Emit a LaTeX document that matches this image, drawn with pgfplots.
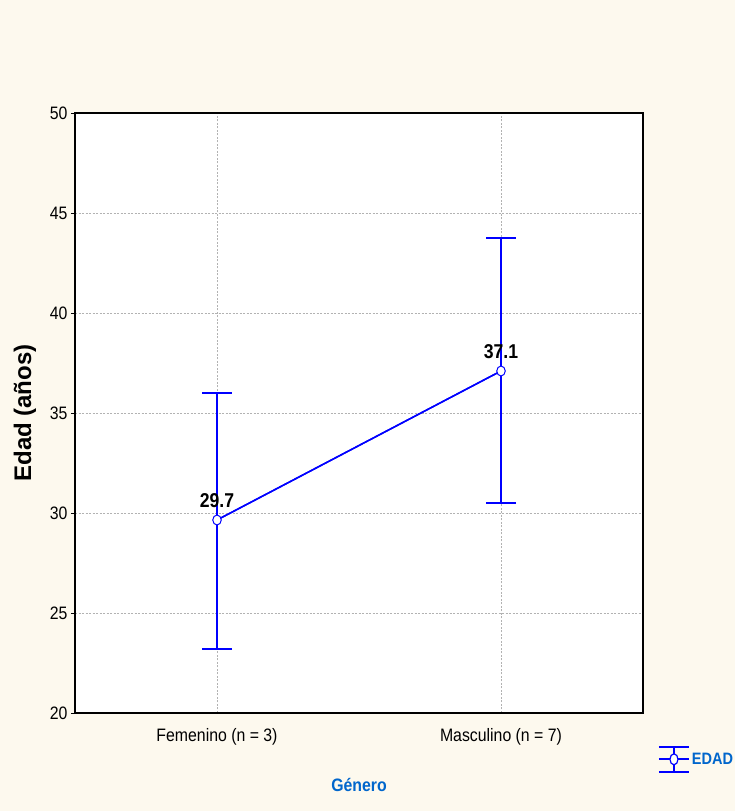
\documentclass[border=0pt]{standalone}
\usepackage{fontspec}
\setmainfont{Liberation Sans}[FakeStretch=0.88]
\newfontfamily\plainfont{Liberation Sans}
\usepackage{pgfplots}
\pgfplotsset{compat=1.18}
\definecolor{bgcream}{RGB}{253,249,238}
\definecolor{gblue}{RGB}{0,102,204}
\definecolor{lblue}{RGB}{0,0,255}
\begin{document}
\begin{tikzpicture}
\fill[bgcream] (0bp,0bp) rectangle (735bp,811bp);
\begin{axis}[
  at={(75bp,98bp)}, anchor=south west,
  scale only axis, width=568bp, height=600bp,
  xmin=-0.5, xmax=1.5, ymin=20, ymax=50,
  xtick={0,1}, xticklabels={Femenino (n = 3), Masculino (n = 7)},
  ytick={20,25,30,35,40,45,50},
  ytick pos=left,
  /pgf/number format/assume math mode=true,
  grid=major,
  grid style={gray!60, line width=0.5bp, dash pattern=on 2bp off 1.5bp},
  axis background/.style={fill=white},
  axis line style={black, line width=1.2bp},
  tick align=outside, major tick length=4bp,
  ytick style={black, line width=0.6bp},
  xtick style={draw=none},
  ticklabel style={font=\fontsize{18bp}{20bp}\selectfont, text=black},
  xticklabel style={yshift=-8bp},
  xlabel={\bfseries Género},
  xlabel style={at={(axis description cs:0.5,-0.12)}, anchor=center, font=\fontsize{18bp}{20bp}\selectfont, text=gblue},
  ylabel={\plainfont\bfseries Edad (años)},
  ylabel style={at={(axis description cs:-0.088,0.5)}, anchor=center, rotate=0, font=\fontsize{24bp}{26bp}\selectfont},
  legend style={at={(axis description cs:1.026,-0.078)}, anchor=west, draw=none, fill=none, inner sep=0pt,
    font=\fontsize{16.5bp}{18bp}\selectfont\bfseries, text=gblue},
  legend image code/.code={
    \draw[lblue, line width=2bp] (0bp,0bp) -- (30bp,0bp);
    \draw[lblue, line width=2bp] (0bp,12bp) -- (30bp,12bp);
    \draw[lblue, line width=2bp] (0bp,-13bp) -- (30bp,-13bp);
    \draw[lblue, line width=1.5bp] (15bp,12bp) -- (15bp,-13bp);
    \draw[lblue, line width=1.2bp, fill=white] (15bp,0bp) ellipse (4bp and 5.5bp);
  },
]
\addplot[forget plot, lblue, line width=1.5bp, mark=none,
  error bars/.cd, y dir=both, y explicit,
  error bar style={lblue, line width=1.5bp},
  error mark options={lblue, line width=1.5bp, mark size=15bp, rotate=90}]
  coordinates {(0,29.65) += (0,6.35) -= (0,6.45) (1,37.1) += (0,6.65) -= (0,6.6)};
\addplot[lblue, line width=1.5bp, mark=*, mark size=5bp,
  mark options={fill=white, draw=lblue, line width=1bp, xscale=0.85},
  point meta=explicit symbolic, nodes near coords,
  nodes near coords style={anchor=base, yshift=12bp, inner sep=0pt, text=black,
    font=\fontsize{20bp}{22bp}\selectfont\bfseries}]
  coordinates {(0,29.65) [29.7] (1,37.1) [37.1]};
\addlegendentry{EDAD}
\end{axis}
\pgfresetboundingbox
\path[use as bounding box] (0bp,0bp) rectangle (735bp,811bp);
\end{tikzpicture}
\end{document}
